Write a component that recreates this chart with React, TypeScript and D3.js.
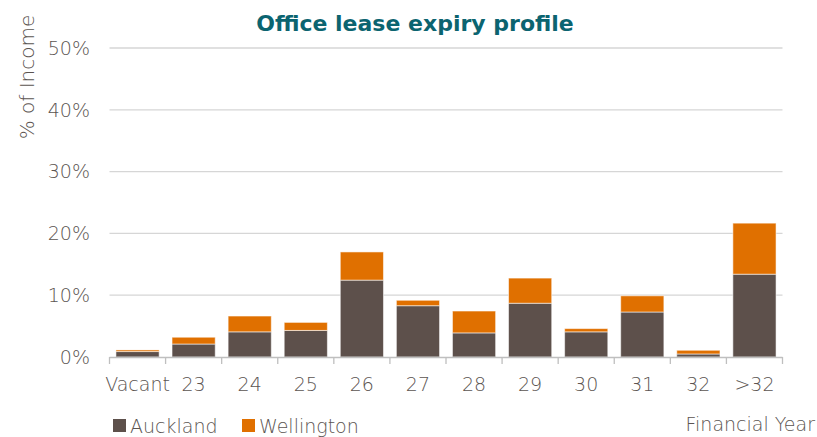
import React from "react";
import * as d3 from "d3";

const categories = ["Vacant", "23", "24", "25", "26", "27", "28", "29", "30", "31", "32", ">32"];
const auckland = [0.88, 2.1, 4.07, 4.3, 12.44, 8.3, 3.9, 8.7, 4.07, 7.28, 0.49, 13.4];
const wellington = [0.26, 1.1, 2.56, 1.3, 4.56, 0.88, 3.54, 4.07, 0.53, 2.62, 0.6, 8.26];
const yTicks = [0, 10, 20, 30, 40, 50];
const seriesNames = ["Auckland", "Wellington"];
const colors = ["#5d504b", "#e07000"];

const W = 817, H = 437;
const FONT = "'DejaVu Sans', sans-serif";
const TEXT = "#5b5451";

export default function App() {
  const x = d3.scaleBand<string>().domain(categories).range([109.5, 782.5]).paddingInner(0.23).paddingOuter(0.115);
  const y = d3.scaleLinear().domain([0, 50]).range([357, 48]);
  const rows = categories.map((c, i) => ({ cat: c, Auckland: auckland[i], Wellington: wellington[i] }));
  const stack = d3.stack<any>().keys(seriesNames)(rows);
  const step = (782.5 - 109.5) / categories.length;

  return (
    <svg width={W} height={H} style={{ position: "absolute", left: 0, top: 0 }} fontFamily={FONT}>
      <text x={415} y={31} textAnchor="middle" fill="#0b6470" fontWeight={700} fontSize={22}>
        Office lease expiry profile
      </text>
      {yTicks.map((t) => (
        <g key={t}>
          {t > 0 && <line x1={109.5} x2={782.5} y1={y(t)} y2={y(t)} stroke="#d6d6d6" strokeWidth={1.3} />}
          <text x={90} y={y(t)} dy="0.36em" textAnchor="end" fill={TEXT} fontSize={19} fontWeight={200}>
            {t}%
          </text>
        </g>
      ))}
      <text transform={`translate(34,77) rotate(-90)`} textAnchor="middle" fill={TEXT} fontSize={20} fontWeight={200}>
        % of Income
      </text>
      {stack.map((s, si) => (
        <g key={si} fill={colors[si]}>
          {s.map((d: any, i: number) => (
            <rect
              key={i}
              x={x(categories[i])}
              width={x.bandwidth()}
              y={y(d[1])}
              height={y(d[0]) - y(d[1])}
              stroke="#ffffff"
              strokeOpacity={0.55}
              strokeWidth={1}
            />
          ))}
        </g>
      ))}
      <line x1={109.5} x2={782.5} y1={357.5} y2={357.5} stroke="#bfbfbf" strokeWidth={1.5} />
      {d3.range(categories.length + 1).map((i) => (
        <line key={i} x1={109.5 + i * step} x2={109.5 + i * step} y1={357} y2={364} stroke="#bfbfbf" strokeWidth={1.3} />
      ))}
      {categories.map((c) => (
        <text key={c} x={(x(c) as number) + x.bandwidth() / 2} y={391} textAnchor="middle" fill={TEXT} fontSize={19} fontWeight={200}>
          {c}
        </text>
      ))}
      {seriesNames.map((n, i) => {
        const lx = [113, 242][i];
        return (
          <g key={n}>
            <rect x={lx} y={419} width={13} height={13} fill={colors[i]} />
            <text x={lx + 17} y={433} fill={TEXT} fontSize={19} fontWeight={200}>
              {n}
            </text>
          </g>
        );
      })}
      <text x={815} y={431} textAnchor="end" fill={TEXT} fontSize={19} fontWeight={200}>
        Financial Year
      </text>
    </svg>
  );
}
